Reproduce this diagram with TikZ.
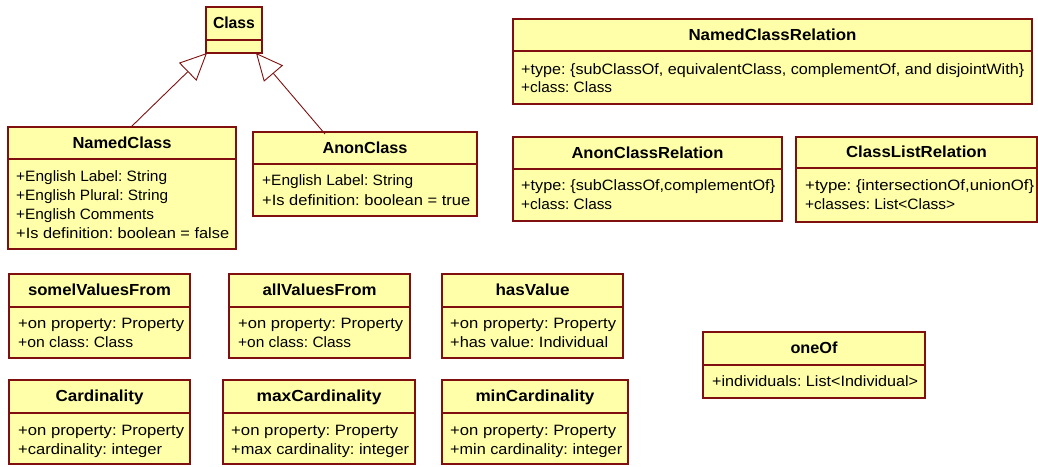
\documentclass[tikz,border=0pt]{standalone}
\usepackage{fontspec}
\usepackage{graphicx}
\setmainfont{Liberation Sans}
\frenchspacing
\usetikzlibrary{arrows.meta}
\definecolor{umlred}{RGB}{128,16,16}
\definecolor{umlfill}{RGB}{255,255,170}
\newsavebox{\fitbox}
% set #2 horizontally scaled to width #1 (in pt)
\newcommand{\fitto}[2]{%
  \sbox{\fitbox}{#2}%
  \pgfmathsetmacro{\fitr}{#1/\wd\fitbox}%
  \scalebox{\fitr}[1]{\usebox{\fitbox}}%
}
\tikzset{
  umlbox/.style={draw=umlred, fill=umlfill, line width=1.3pt, inner sep=0pt, outer sep=0pt},
  divline/.style={draw=umlred, line width=1.1pt},
  hdr/.style={font=\bfseries\fontsize{16}{19}\selectfont, inner sep=0pt, anchor=base},
  attr/.style={font=\fontsize{15}{19}\selectfont, inner sep=0pt, anchor=base west},
  gen/.style={draw=umlred, line width=0.9pt, -{Triangle[open, length=27pt, width=25pt, fill=white]}}
}
% #1 name, #2 x1, #3 ytop, #4 x2, #5 ydiv, #6 ybottom, #7 header width, #8 header
\newcommand{\umlclassbox}[8]{%
  \node[umlbox, minimum width={(#4-#2)*1pt}, minimum height={(#6-#3)*1pt}] (#1) at ({(#2+#4)/2},{(#3+#6)/2}) {};
  \draw[divline] (#2,#5) -- (#4,#5);
  \node[hdr] (#1-h) at ({(#2+#4)/2},{(#3+#5)/2+5}) {\fitto{#7}{#8}};
}
\begin{document}
\begin{tikzpicture}[x=1pt,y=-1pt]
\useasboundingbox (0,0) rectangle (1038,466);

% Class
\umlclassbox{cls}{206}{7}{262}{40}{53}{42}{Class}

% NamedClass
\umlclassbox{nc}{8}{127}{236}{159}{249}{99}{NamedClass}
\node[attr] (nc-a1) at (16,181) {\fitto{151}{+English Label: String}};
\node[attr] (nc-a2) at (16,200) {\fitto{152}{+English Plural: String}};
\node[attr] (nc-a3) at (16,219) {\fitto{138}{+English Comments}};
\node[attr] (nc-a4) at (16,238) {\fitto{213}{+Is definition: boolean = false}};

% AnonClass
\umlclassbox{ac}{253}{132}{477}{164}{216}{85}{AnonClass}
\node[attr] (ac-a1) at (262,185) {\fitto{151}{+English Label: String}};
\node[attr] (ac-a2) at (262,205) {\fitto{208}{+Is definition: boolean = true}};

% NamedClassRelation
\umlclassbox{ncr}{513}{19}{1032}{51}{104}{168}{NamedClassRelation}
\node[attr] (ncr-a1) at (521,74) {\fitto{503}{+type: \{subClassOf, equivalentClass, complementOf, and disjointWith\}}};
\node[attr] (ncr-a2) at (521,92) {\fitto{91}{+class: Class}};

% AnonClassRelation
\umlclassbox{acr}{513}{137}{782}{169}{221}{152}{AnonClassRelation}
\node[attr] (acr-a1) at (521,190) {\fitto{254}{+type: \{subClassOf,complementOf\}}};
\node[attr] (acr-a2) at (521,209) {\fitto{91}{+class: Class}};

% ClassListRelation
\umlclassbox{clr}{796}{137}{1037}{168}{222}{141}{ClassListRelation}
\node[attr] (clr-a1) at (805,190) {\fitto{229}{+type: \{intersectionOf,unionOf\}}};
\node[attr] (clr-a2) at (805,209) {\fitto{150}{+classes: List<Class>}};

% somelValuesFrom
\umlclassbox{svf}{9}{274}{190}{307}{358}{143}{somelValuesFrom}
\node[attr] (svf-a1) at (18,328) {\fitto{166}{+on property: Property}};
\node[attr] (svf-a2) at (18,347) {\fitto{115}{+on class: Class}};

% allValuesFrom
\umlclassbox{avf}{229}{274}{410}{307}{358}{114}{allValuesFrom}
\node[attr] (avf-a1) at (238,328) {\fitto{165}{+on property: Property}};
\node[attr] (avf-a2) at (238,347) {\fitto{113}{+on class: Class}};

% hasValue
\umlclassbox{hv}{442}{274}{623}{307}{358}{74}{hasValue}
\node[attr] (hv-a1) at (450,328) {\fitto{166}{+on property: Property}};
\node[attr] (hv-a2) at (450,347) {\fitto{158}{+has value: Individual}};

% Cardinality
\umlclassbox{card}{9}{380}{190}{413}{464}{88}{Cardinality}
\node[attr] (card-a1) at (18,435) {\fitto{166}{+on property: Property}};
\node[attr] (card-a2) at (18,454) {\fitto{144}{+cardinality: integer}};

% maxCardinality
\umlclassbox{maxc}{223}{380}{415}{413}{464}{125}{maxCardinality}
\node[attr] (maxc-a1) at (231,435) {\fitto{167}{+on property: Property}};
\node[attr] (maxc-a2) at (231,454) {\fitto{178}{+max cardinality: integer}};

% minCardinality
\umlclassbox{minc}{442}{380}{628}{413}{464}{119}{minCardinality}
\node[attr] (minc-a1) at (450,435) {\fitto{166}{+on property: Property}};
\node[attr] (minc-a2) at (450,454) {\fitto{172}{+min cardinality: integer}};

% oneOf
\umlclassbox{one}{703}{332}{925}{365}{398}{47}{oneOf}
\node[attr] (one-a1) at (712,386) {\fitto{206}{+individuals: List<Individual>}};

% generalizations
\draw[gen] ([xshift=9pt]nc.north) -- ([xshift=1pt]cls.south west);
\draw[gen] ([xshift=-40pt,yshift=-2pt]ac.north) -- ([xshift=-6pt]cls.south east);
\end{tikzpicture}
\end{document}
